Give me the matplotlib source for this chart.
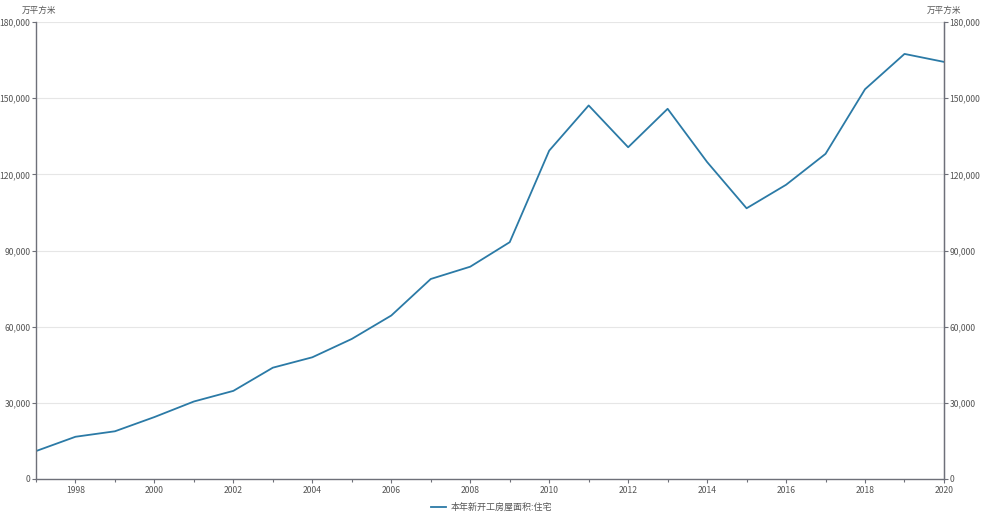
import matplotlib.pyplot as plt
from matplotlib.ticker import FuncFormatter, MultipleLocator

plt.rcParams['font.family'] = ['Noto Sans CJK SC', 'DejaVu Sans']

years = list(range(1997, 2021))
area = [10996.6, 16637.5, 18797.9, 24401.3, 30532.7, 34719.4, 43853.9, 47949.0,
        55185.1, 64403.8, 78795.5, 83642.1, 93298.4, 129359.3, 147163.1, 130695.4,
        145844.8, 124877.1, 106651.3, 115910.6, 128097.6, 153553.0, 167463.4, 164328.5]
series_name = '本年新开工房屋面积:住宅'
unit = '万平方米'

axis_col = '#6e7079'
text_col = '#555555'
line_col = '#2b7aa6'

fig = plt.figure(figsize=(9.83, 5.14), dpi=100)
ax = fig.add_axes([0.0366, 0.0681, 0.9237, 0.8889])
ax.plot(years, area, color=line_col, lw=1.3, label=series_name)

ax.set_xlim(1997, 2020)
ax.set_ylim(0, 180000)
ax.yaxis.set_major_locator(MultipleLocator(30000))
ax.xaxis.set_major_locator(MultipleLocator(2))
ax.xaxis.set_minor_locator(MultipleLocator(1))
fmt = FuncFormatter(lambda v, p: f'{int(v):,}')
ax.yaxis.set_major_formatter(fmt)
ax.grid(axis='y', color='#e6e6e6', lw=0.8)
ax.set_axisbelow(True)

ax.spines['top'].set_visible(False)
for s in ['left', 'right', 'bottom']:
    ax.spines[s].set_color(axis_col)
    ax.spines[s].set_linewidth(1)

ax.tick_params(axis='y', colors=axis_col, labelcolor=text_col,
               labelsize=6.2, length=3, width=0.8, pad=1)
ax.tick_params(axis='x', which='both', colors=axis_col, labelcolor=text_col,
               labelsize=6.2, length=3, width=0.8, pad=2)
ax.tick_params(axis='x', which='minor', length=2)

ax2 = ax.twinx()
ax2.set_ylim(0, 180000)
ax2.yaxis.set_major_locator(MultipleLocator(30000))
ax2.yaxis.set_major_formatter(fmt)
for s in ['top', 'left', 'bottom']:
    ax2.spines[s].set_visible(False)
ax2.spines['right'].set_color(axis_col)
ax2.tick_params(axis='y', colors=axis_col, labelcolor=text_col, labelsize=6.2,
                length=3, width=0.8, pad=1)

fig.text(0.0396, 0.970, unit, ha='center', va='bottom', fontsize=6.2, color=text_col)
fig.text(0.960, 0.970, unit, ha='center', va='bottom', fontsize=6.2, color=text_col)

fig.legend(loc='lower center', bbox_to_anchor=(0.5, -0.012), frameon=False,
           fontsize=6.5, labelcolor=text_col, handlelength=1.6, handletextpad=0.5)

fig.savefig('out.png', dpi=100)
